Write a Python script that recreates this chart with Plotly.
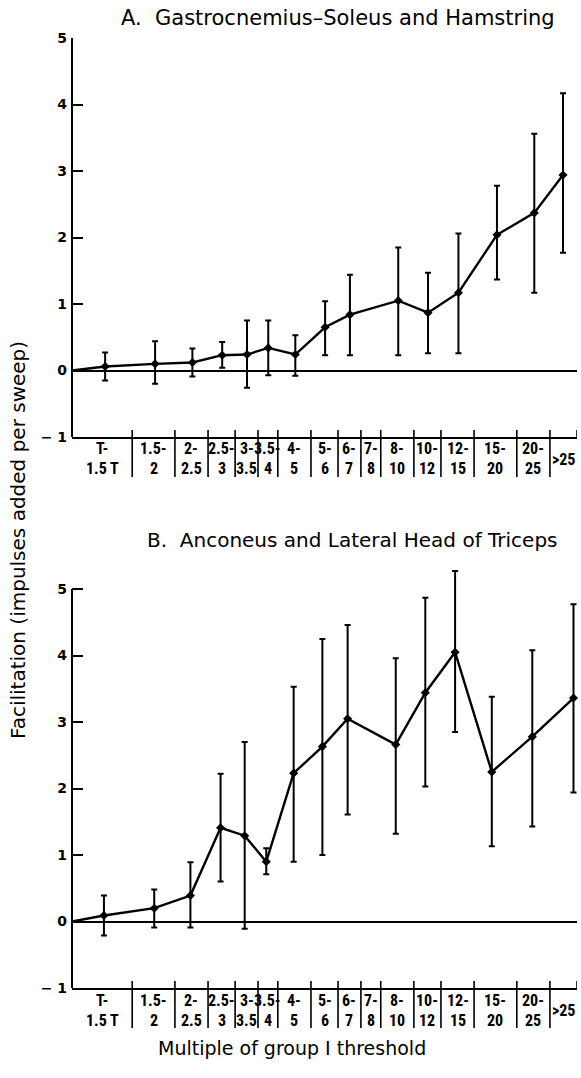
import plotly.graph_objects as go
import numpy as np

# ---------------- data ----------------
bin_edges = [1, 1.5, 2, 2.5, 3, 3.5, 4, 5, 6, 7, 8, 10, 12, 15, 20, 25, 30]
bin_top = ["T-", "1.5-", "2-", "2.5-", "3-", "3.5-", "4-", "5-", "6-", "7-", "8-", "10-", "12-", "15-", "20-", ""]
bin_bottom = ["1.5 T", "2", "2.5", "3", "3.5", "4", "5", "6", "7", "8", "10", "12", "15", "20", "25", ""]
bin_single = ["", "", "", "", "", "", "", "", "", "", "", "", "", "", "", ">25"]

# Panel A: Gastrocnemius-Soleus and Hamstring
xA = [1.25, 1.75, 2.25, 2.75, 3.25, 3.75, 4.5, 5.5, 6.5, 9, 11, 13.5, 17.5, 22.5, 27.3]
yA = [0.06, 0.10, 0.12, 0.23, 0.24, 0.34, 0.24, 0.65, 0.84, 1.05, 0.87, 1.17, 2.04, 2.37, 2.94]
upA = [0.27, 0.44, 0.33, 0.43, 0.75, 0.75, 0.53, 1.04, 1.44, 1.85, 1.47, 2.06, 2.78, 3.56, 4.17]
loA = [-0.15, -0.20, -0.09, 0.04, -0.26, -0.07, -0.08, 0.23, 0.23, 0.23, 0.26, 0.26, 1.37, 1.17, 1.77]

# Panel B: Anconeus and Lateral Head of Triceps
xB = [1.24, 1.74, 2.22, 2.72, 3.2, 3.7, 4.45, 5.4, 6.4, 8.85, 10.8, 13.2, 16.9, 22.2, 29.3]
yB = [0.09, 0.20, 0.39, 1.41, 1.29, 0.90, 2.23, 2.63, 3.05, 2.66, 3.44, 4.05, 2.25, 2.78, 3.36]
upB = [0.39, 0.48, 0.89, 2.22, 2.70, 1.10, 3.53, 4.25, 4.46, 3.96, 4.87, 5.27, 3.38, 4.08, 4.77]
loB = [-0.21, -0.09, -0.09, 0.60, -0.11, 0.71, 0.90, 1.00, 1.61, 1.32, 2.03, 2.85, 1.13, 1.43, 1.94]

origin_x = [1]
origin_y = [0]

y_ticks = [-1, 0, 1, 2, 3, 4, 5]
y_ticktext = ["\u2212 1", "0", "1", "2", "3", "4", "5"]

title_A = "A.  Gastrocnemius\u2013Soleus and Hamstring"
title_B = "B.  Anconeus and Lateral Head of Triceps"
y_title = "Facilitation (impulses added per sweep)"
x_title = "Multiple of group I threshold"

# ---------------- layout geometry (pixels) ----------------
W, H = 581, 1078
L, R, T, B = 72, 4, 38, 90
plot_h = H - T - B            # 950
unit_px = 399 / 6.0           # pixels per y unit
rangeA = [-1, 5]
rangeB = [-1, 5.4]            # room for the tallest error bar
hA = unit_px * (rangeA[1] - rangeA[0])
hB = unit_px * (rangeB[1] - rangeB[0])
domA = [1 - hA / plot_h, 1]
domB = [0, hB / plot_h]

FONT = "DejaVu Sans"
LABFONT = "Liberation Sans Narrow, Roboto Condensed, Liberation Sans, Arial Narrow"

fig = go.Figure()

def add_panel(xs, ys, ups, los, xa, ya):
    fig.add_trace(go.Scatter(
        x=origin_x + xs, y=origin_y + ys, mode="lines",
        line=dict(color="black", width=2.4), xaxis=xa, yaxis=ya,
        showlegend=False, hoverinfo="skip"))
    ys_a = np.array(ys); up = np.array(ups) - ys_a; lo = ys_a - np.array(los)
    fig.add_trace(go.Scatter(
        x=xs, y=ys, mode="markers",
        marker=dict(color="black", size=7, symbol="diamond"),
        error_y=dict(type="data", array=up.tolist(), arrayminus=lo.tolist(),
                     color="black", thickness=2, width=3),
        xaxis=xa, yaxis=ya, showlegend=False, cliponaxis=False))

add_panel(xA, yA, upA, loA, "x", "y")
add_panel(xB, yB, upB, loB, "x2", "y2")

xrange = [np.log10(bin_edges[0]), np.log10(bin_edges[-1])]
xcommon = dict(type="log", range=xrange, showline=True, linecolor="black", linewidth=1.6,
               ticks="", showticklabels=False, showgrid=False, zeroline=False)
ycommon = dict(showline=False,
               ticks="inside", ticklen=11, tickwidth=2, tickcolor="black",
               tickvals=y_ticks, ticktext=y_ticktext, showgrid=False,
               zeroline=True, zerolinecolor="black", zerolinewidth=1.6,
               tickfont=dict(family=FONT, size=14, color="black", weight="bold"),
               ticklabelstandoff=4)

fig.update_layout(
    width=W, height=H, margin=dict(l=L, r=R, t=T, b=B),
    paper_bgcolor="white", plot_bgcolor="white",
    xaxis=dict(domain=[0, 1], anchor="y", **xcommon),
    yaxis=dict(domain=domA, anchor="x", range=rangeA, **ycommon),
    xaxis2=dict(domain=[0, 1], anchor="y2", **xcommon),
    yaxis2=dict(domain=domB, anchor="x2", range=rangeB, **ycommon),
)

shapes = []
annotations = []
for xa, ya, hp in (("x", "y", hA), ("x2", "y2", hB)):
    # y-axis line from -1 to 5
    shapes.append(dict(type="line", xref=xa + " domain", yref=ya, x0=0, x1=0,
                       y0=y_ticks[0], y1=y_ticks[-1], line=dict(color="black", width=2)))
    up_d = 7 / hp
    down_d = -40 / hp
    for e in bin_edges[1:-1]:
        shapes.append(dict(type="line", xref=xa, yref=ya + " domain", x0=e, x1=e,
                           y0=up_d, y1=down_d, line=dict(color="black", width=1.6)))
    shapes.append(dict(type="line", xref=xa, yref=ya + " domain", x0=bin_edges[-1], x1=bin_edges[-1],
                       y0=up_d, y1=0, line=dict(color="black", width=1.6)))
    for i in range(len(bin_top)):
        xc = 0.5 * (np.log10(bin_edges[i]) + np.log10(bin_edges[i + 1]))
        for txt, off in ((bin_top[i], -12), (bin_bottom[i], -32), (bin_single[i], -22)):
            if txt:
                annotations.append(dict(text=txt, xref=xa, yref=ya + " domain", x=float(xc),
                                        y=off / hp, showarrow=False, xanchor="center",
                                        yanchor="middle",
                                        font=dict(family=LABFONT, size=16, color="black",
                                                  weight="bold")))

def px_to_paper_x(px):
    return (px - L) / (W - L - R)

def px_to_paper_y(py):
    return (H - B - py) / plot_h

annotations.append(dict(text=title_A, xref="paper", yref="paper", x=px_to_paper_x(338),
                        y=px_to_paper_y(18), showarrow=False, xanchor="center", yanchor="middle",
                        font=dict(family=FONT, size=21, color="black")))
annotations.append(dict(text=title_B, xref="paper", yref="paper", x=px_to_paper_x(352),
                        y=px_to_paper_y(540), showarrow=False, xanchor="center", yanchor="middle",
                        font=dict(family=FONT, size=20, color="black")))
annotations.append(dict(text=y_title, xref="paper", yref="paper", x=px_to_paper_x(18),
                        y=px_to_paper_y(540), showarrow=False, xanchor="center", yanchor="middle",
                        textangle=-90, font=dict(family=FONT, size=20, color="black")))
annotations.append(dict(text=x_title, xref="paper", yref="paper", x=px_to_paper_x(292),
                        y=px_to_paper_y(1048), showarrow=False, xanchor="center", yanchor="middle",
                        font=dict(family=FONT, size=19, color="black")))

fig.update_layout(shapes=shapes, annotations=annotations)
fig.write_html("out.html", config={"displayModeBar": False},
               post_script="document.body.style.margin='0';document.body.style.overflow='hidden';")
